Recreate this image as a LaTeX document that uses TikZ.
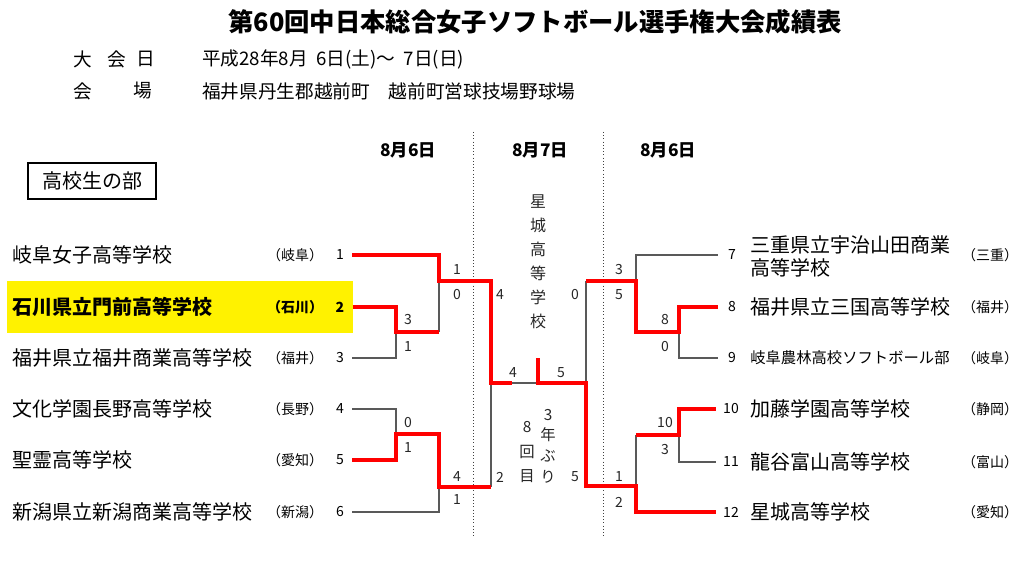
\documentclass[tikz,border=0pt]{standalone}
\usepackage{fontspec}
\setmainfont{Noto Sans CJK JP}
\begin{document}
\begin{tikzpicture}[x=0.75pt,y=-0.75pt,
	win/.style={line width=2.3pt,color=red},
	lose/.style={line width=0.8pt,color=black!65},
	team/.style={anchor=west,inner sep=0pt,font=\fontsize{15}{17.25}\selectfont},
	pref/.style={inner sep=0pt,font=\fontsize{10.5}{12}\selectfont},
	num/.style={inner sep=0pt,font=\fontsize{10.5}{12}\selectfont},
	sc/.style={inner sep=0pt,font=\fontsize{10.5}{12}\selectfont,color=black!85},
	day/.style={inner sep=0pt,font=\fontsize{13}{15}\selectfont\bfseries}]
\useasboundingbox (0,0) rectangle (1024,563);
% heading
\node[font=\fontsize{19}{22}\selectfont\bfseries] (title) at (535,22) {第60回中日本総合女子ソフトボール選手権大会成績表};
\node[font=\fontsize{14}{16}\selectfont] (h1) at (83,59) {大};
\node[font=\fontsize{14}{16}\selectfont] (h2) at (117,59) {会};
\node[font=\fontsize{14}{16}\selectfont] (h3) at (146,59) {日};
\node[font=\fontsize{14}{16}\selectfont,anchor=west,inner sep=0pt] (date) at (202,59) {平成28年8月\ \ 6日(土)～\ \ 7日(日)};
\node[font=\fontsize{14}{16}\selectfont] (h4) at (83,91) {会};
\node[font=\fontsize{14}{16}\selectfont] (h5) at (143,91) {場};
\node[font=\fontsize{14}{16}\selectfont,anchor=west,inner sep=0pt] (venue) at (202,91) {福井県丹生郡越前町\quad 越前町営球技場野球場};
\node[draw,line width=0.8pt,minimum width=96pt,minimum height=27pt,font=\fontsize{15}{17}\selectfont] (div) at (92,181) {高校生の部};
\node[day] (day1) at (408,150) {8月6日};
\node[day] (day2) at (540,150) {8月7日};
\node[day] (day3) at (668,150) {8月6日};
\draw[dotted,black!75] (473,132) -- (473,538);
\draw[dotted,black!75] (603,132) -- (603,538);
\fill[yellow] (7,281) rectangle (353,333);
% left teams
\node[team] (t1) at (12,255) {岐阜女子高等学校};
\node[team,font=\fontsize{15}{17.25}\selectfont\bfseries] (t2) at (12,307) {石川県立門前高等学校};
\node[team] (t3) at (12,358) {福井県立福井商業高等学校};
\node[team] (t4) at (12,409) {文化学園長野高等学校};
\node[team] (t5) at (12,460) {聖霊高等学校};
\node[team] (t6) at (12,512) {新潟県立新潟商業高等学校};
\node[pref] (p1) at (295,255) {（岐阜）};
\node[pref,font=\fontsize{10.5}{12}\selectfont\bfseries] (p2) at (295,307) {（石川）};
\node[pref] (p3) at (295,358) {（福井）};
\node[pref] (p4) at (295,409) {（長野）};
\node[pref] (p5) at (295,460) {（愛知）};
\node[pref] (p6) at (295,512) {（新潟）};
\node[num] (n1) at (340,255) {1};
\node[num,font=\fontsize{10.5}{12}\selectfont\bfseries] (n2) at (340,307) {2};
\node[num] (n3) at (340,358) {3};
\node[num] (n4) at (340,409) {4};
\node[num] (n5) at (340,460) {5};
\node[num] (n6) at (340,512) {6};
% right teams
\node[team,align=left] (t7) at (750,256) {三重県立宇治山田商業\\高等学校};
\node[team] (t8) at (750,307) {福井県立三国高等学校};
\node[team,font=\fontsize{11.5}{14}\selectfont] (t9) at (750,358) {岐阜農林高校ソフトボール部};
\node[team] (t10) at (750,409) {加藤学園高等学校};
\node[team] (t11) at (750,462) {龍谷富山高等学校};
\node[team] (t12) at (750,512) {星城高等学校};
\node[pref] (p7) at (990,255) {（三重）};
\node[pref] (p8) at (990,307) {（福井）};
\node[pref] (p9) at (990,358) {（岐阜）};
\node[pref] (p10) at (990,409) {（静岡）};
\node[pref] (p11) at (990,462) {（富山）};
\node[pref] (p12) at (990,512) {（愛知）};
\node[num] (n7) at (732,255) {7};
\node[num] (n8) at (732,307) {8};
\node[num] (n9) at (732,358) {9};
\node[num] (n10) at (731,409) {10};
\node[num] (n11) at (731,462) {11};
\node[num] (n12) at (731,512) {12};
% bracket, losers first
\draw[lose] (n3.east) ++(8,0) -- (396,358) -- (396,332);
\draw[lose] (439,332) -- (439,281);
\draw[lose] (n4.east) ++(8,0) -- (396,409) -- (396,434);
\draw[lose] (n6.east) ++(8,0) -- (439,512) -- (439,487);
\draw[lose] (491,487) -- (491,383);
\draw[lose] (512,383) -- (538,383);
\draw[lose] (n7.west) ++(-10,0) -- (636,255) -- (636,281);
\draw[lose] (n9.west) ++(-10,0) -- (679,358) -- (679,332);
\draw[lose] (n11.west) ++(-7,0) -- (679,462) -- (679,435);
\draw[lose] (636,435) -- (636,486);
\draw[lose] (586,281) -- (586,383);
\draw[win] (n1.east) ++(8,0) -- (439,255) -- (439,281) -- (491,281) -- (491,383) -- (512,383);
\draw[win] (n2.east) ++(8,0) -- (396,307) -- (396,332) -- (439,332);
\draw[win] (n5.east) ++(8,0) -- (396,460) -- (396,434) -- (439,434) -- (439,487) -- (491,487);
\draw[win] (n8.west) ++(-10,0) -- (679,307) -- (679,332) -- (636,332) -- (636,281) -- (586,281);
\draw[win] (n10.west) ++(-7,0) -- (679,409) -- (679,435) -- (636,435);
\draw[win] (n12.west) ++(-7,0) -- (636,512) -- (636,486) -- (586,486) -- (586,383) -- (538,383) -- (538,358);
% scores
\node[sc] (r1) at (457,270) {1};
\node[sc] (r2) at (457,295) {0};
\node[sc] (r3) at (408,320) {3};
\node[sc] (r4) at (408,347) {1};
\node[sc] (r5) at (408,423) {0};
\node[sc] (r6) at (408,448) {1};
\node[sc] (r7) at (457,477) {4};
\node[sc] (r8) at (457,500) {1};
\node[sc] (r9) at (500,295) {4};
\node[sc] (r10) at (500,477) {2};
\node[sc] (r11) at (513,373) {4};
\node[sc] (r12) at (561,373) {5};
\node[sc] (r13) at (575,295) {0};
\node[sc] (r14) at (575,477) {5};
\node[sc] (r15) at (619,270) {3};
\node[sc] (r16) at (619,295) {5};
\node[sc] (r17) at (665,320) {8};
\node[sc] (r18) at (665,347) {0};
\node[sc] (r19) at (665,423) {10};
\node[sc] (r20) at (665,450) {3};
\node[sc] (r21) at (619,477) {1};
\node[sc] (r22) at (619,502) {2};
% champion notes
\node[align=center,inner sep=0pt,color=black!85,font=\fontsize{12}{18}\selectfont] (champ) at (538,262) {星\\城\\高\\等\\学\\校};
\node[align=center,inner sep=0pt,color=black!85,font=\fontsize{11.5}{15.5}\selectfont] (nen) at (548,446) {3\\年\\ぶ\\り};
\node[align=center,inner sep=0pt,color=black!85,font=\fontsize{11.5}{18.4}\selectfont] (kai) at (527,452) {8\\回\\目};
\end{tikzpicture}
\end{document}
